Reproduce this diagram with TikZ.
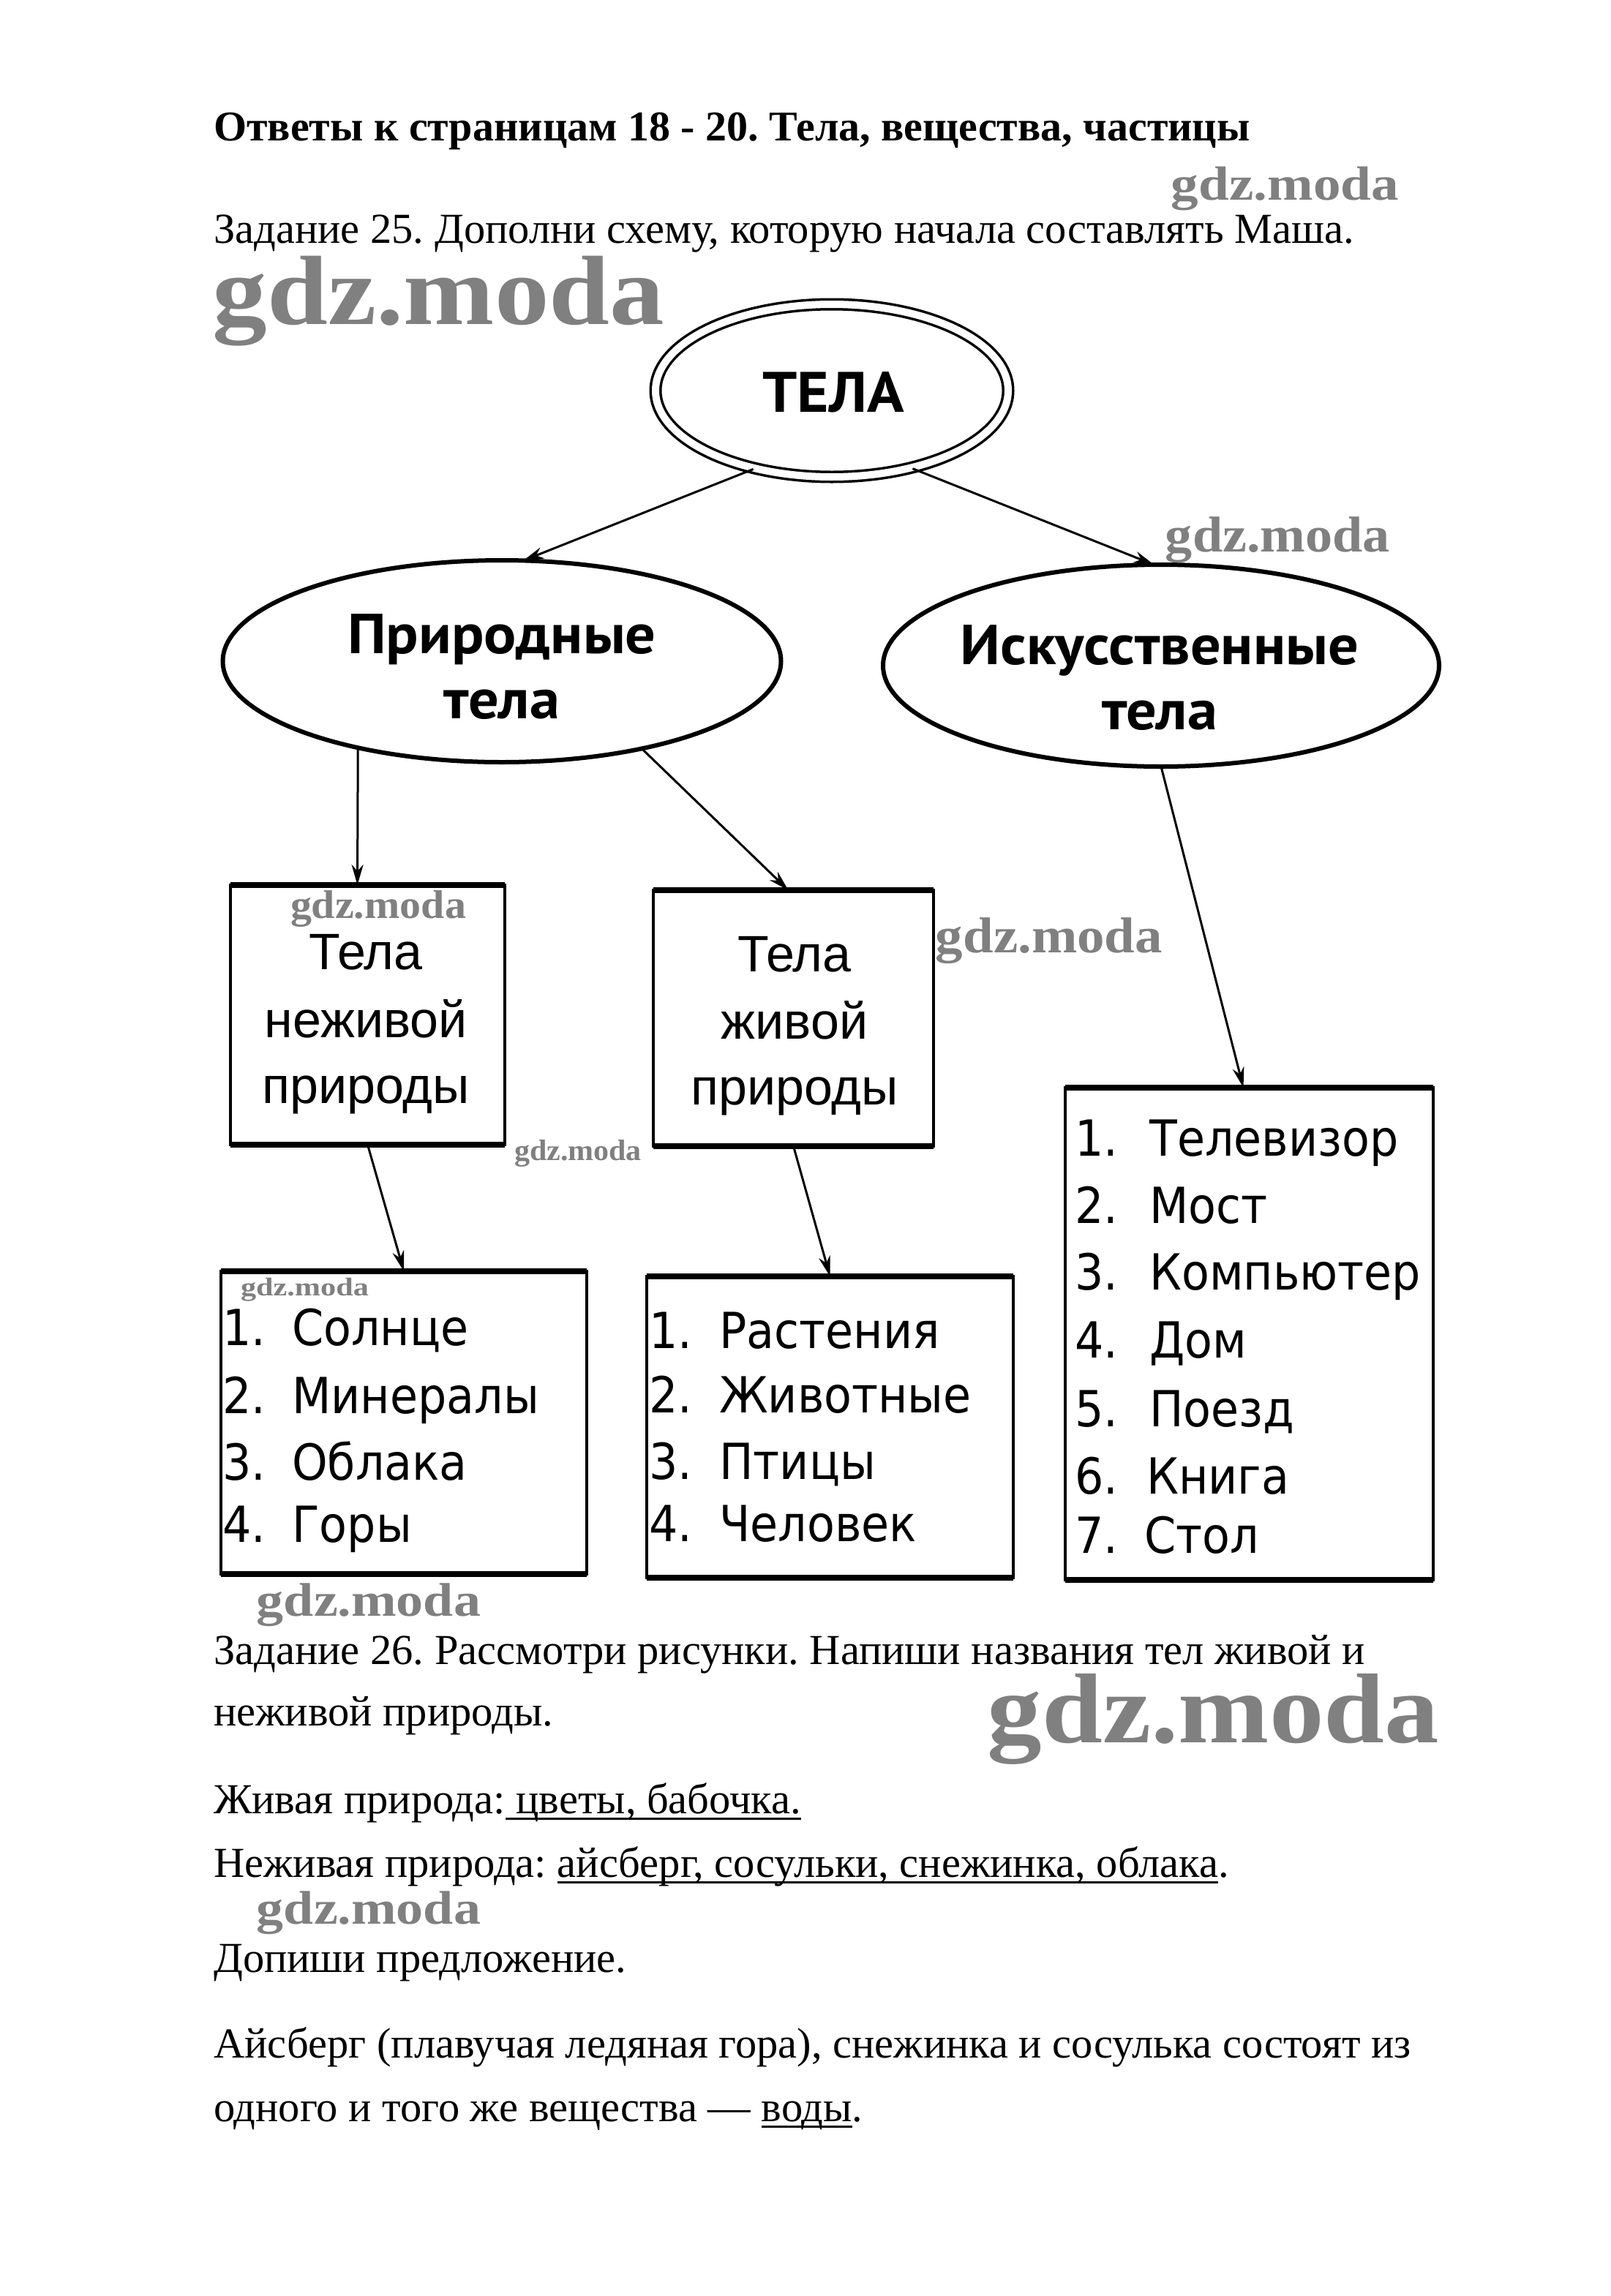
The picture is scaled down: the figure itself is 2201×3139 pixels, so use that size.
\documentclass[tikz,border=0pt]{standalone}
\usepackage{fontspec}
\usepackage{graphicx}
\setmainfont{Liberation Serif}
\newfontfamily\boxfont{Liberation Sans}
\newfontfamily\listfont[FakeStretch=0.91]{DejaVu Sans}
\newfontfamily\ellfont[FakeStretch=1.07]{PT Sans}
\newfontfamily\wmfont{Liberation Serif}
\usetikzlibrary{shapes.geometric,arrows.meta}
\frenchspacing
\newsavebox\myulbox
\newcommand\myul[1]{\sbox\myulbox{#1}\rlap{\rule[-9pt]{\wd\myulbox}{3pt}}\usebox\myulbox}
\newcommand\wmark[2]{\resizebox*{#1}{#2}{\wmfont\bfseries gdz.moda}}
\tikzset{
  ell/.style={ellipse, draw, line width=6pt, inner sep=0pt, outer sep=0pt},
  boxn/.style={rectangle, draw, line width=4pt, inner sep=0pt, outer sep=0pt},
  thickedge/.style={line width=8pt},
  arr/.style={-{Stealth[length=28pt,width=16pt]}, line width=3pt},
  body/.style={anchor=base west, inner sep=0pt, font=\fontsize{58.5}{70}\selectfont},
  ettxt/.style={anchor=base, inner sep=0pt, font=\ellfont\bfseries\fontsize{77}{90}\selectfont},
  bt/.style={anchor=base, inner sep=0pt, font=\boxfont\fontsize{70}{84}\selectfont},
  lst/.style={anchor=base west, inner sep=0pt, font=\listfont\fontsize{68}{80}\selectfont},
  wm/.style={inner sep=0pt, text=black!50},
}
\begin{document}
\begin{tikzpicture}[x=1pt,y=-1pt]
\useasboundingbox (0,0) rectangle (2201,3139);
\fill[white] (0,0) rectangle (2201,3139);

% heading texts
\node[body, font=\bfseries\fontsize{58}{70}\selectfont] (title) at (292,193) {Ответы к страницам 18 - 20. Тела, вещества, частицы};
\node[body] (z25) at (292,332) {Задание 25. Дополни схему, которую начала составлять Маша.};

% top ellipse
\node[ellipse, draw, double, double distance=10pt, line width=3.5pt, inner sep=0pt,
      minimum width=482pt, minimum height=236pt] (tela) at (1137,534) {};
\node[ettxt, font=\ellfont\bfseries\fontsize{78}{90}\selectfont] (telat) at (1139,563) {ТЕЛА};

% second level ellipses
\node[ell, minimum width=763pt, minimum height=276pt] (pr) at (686,904) {};
\node[ettxt] (prt1) at (686,893) {Природные};
\node[ettxt] (prt2) at (686,982) {тела};
\node[ell, minimum width=760pt, minimum height=276pt] (isk) at (1587,910) {};
\node[ettxt] (iskt1) at (1585,908) {Искусственные};
\node[ettxt] (iskt2) at (1585,997) {тела};

% boxes
\node[boxn, minimum width=375pt, minimum height=355pt] (b1) at (502.5,1387.5) {};
\node[boxn, minimum width=383pt, minimum height=350pt] (b2) at (1084.5,1392) {};
\node[boxn, minimum width=503pt, minimum height=673pt] (b3) at (1707.5,1823.5) {};
\node[boxn, minimum width=500pt, minimum height=414pt] (b4) at (552,1945) {};
\node[boxn, minimum width=501pt, minimum height=412pt] (b5) at (1134.5,1951) {};
\foreach \b in {b1,b2,b3,b4,b5}{
  \draw[thickedge] (\b.north west) -- (\b.north east);
  \draw[thickedge] (\b.south west) -- (\b.south east);
}

\node[bt] (b1t1) at (500,1325) {Тела};
\node[bt] (b1t2) at (500,1418) {неживой};
\node[bt] (b1t3) at (500,1508) {природы};
\node[bt] (b2t1) at (1086,1328) {Тела};
\node[bt] (b2t2) at (1086,1420) {живой};
\node[bt] (b2t3) at (1086,1510) {природы};

% list: natural non-living
\node[lst] (l41) at (304,1839) {\makebox[95pt][l]{1.}Солнце};
\node[lst] (l42) at (304,1932) {\makebox[95pt][l]{2.}Минералы};
\node[lst] (l43) at (304,2023) {\makebox[95pt][l]{3.}Облака};
\node[lst] (l44) at (304,2108) {\makebox[95pt][l]{4.}Горы};
% list: living
\node[lst] (l51) at (887,1843) {\makebox[96pt][l]{1.}Растения};
\node[lst] (l52) at (887,1931) {\makebox[96pt][l]{2.}Животные};
\node[lst] (l53) at (887,2022) {\makebox[96pt][l]{3.}Птицы};
\node[lst] (l54) at (887,2107) {\makebox[96pt][l]{4.}Человек};
% list: artificial
\node[lst] (l31) at (1469,1580) {\makebox[102pt][l]{1.}Телевизор};
\node[lst] (l32) at (1469,1672) {\makebox[102pt][l]{2.}Мост};
\node[lst] (l33) at (1469,1763) {\makebox[102pt][l]{3.}Компьютер};
\node[lst] (l34) at (1469,1856) {\makebox[102pt][l]{4.}Дом};
\node[lst] (l35) at (1469,1950) {\makebox[102pt][l]{5.}Поезд};
\node[lst] (l36) at (1469,2042) {\makebox[98pt][l]{6.}Книга};
\node[lst] (l37) at (1469,2123) {\makebox[95pt][l]{7.}Стол};

% arrows
\draw[arr] (tela.225) -- (pr.78);
\draw[arr] (tela.316) -- (isk.94);
\draw[arr] (pr.211) -- ([xshift=-14pt]b1.north);
\draw[arr] (pr.328) -- ([xshift=-7pt]b2.north);
\draw[arr] (isk.south) -- ([xshift=-8pt]b3.north);
\draw[arr] (b1.south) -- (b4.north);
\draw[arr] (b2.south) -- (b5.north);

% lower texts
\node[body] (z26a) at (292,2275) {Задание 26. Рассмотри рисунки. Напиши названия тел живой и};
\node[body] (z26b) at (292,2359) {неживой природы.};
\node[body] (liv) at (292,2479) {Живая природа:\myul{ цветы, бабочка.}};
\node[body] (nliv) at (292,2566) {Неживая природа: \myul{айсберг, сосульки, снежинка, облака}.};
\node[body] (dop) at (292,2696) {Допиши предложение.};
\node[body] (ais1) at (292,2813) {Айсберг (плавучая ледяная гора), снежинка и сосулька состоят из};
\node[body] (ais2) at (292,2900) {одного и того же вещества — \myul{воды}.};

% watermarks
\node[wm] (wm1) at (1756.5,258) {\wmark{311pt}{60pt}};
\node[wm] (wm2) at (599.5,411.5) {\wmark{617pt}{123pt}};
\node[wm] (wm3) at (1746.5,738.5) {\wmark{307pt}{63pt}};
\node[wm] (wm4) at (517,1243) {\wmark{240pt}{50pt}};
\node[wm] (wm5) at (1434,1286.5) {\wmark{310pt}{63pt}};
\node[wm] (wm6) at (790,1576.5) {\wmark{174pt}{37pt}};
\node[wm] (wm7) at (416.5,1763) {\wmark{175pt}{32pt}};
\node[wm] (wm8) at (504,2194.5) {\wmark{306pt}{59pt}};
\node[wm] (wm9) at (1658.5,2350) {\wmark{617pt}{124pt}};
\node[wm] (wm10) at (504,2615.5) {\wmark{306pt}{59pt}};
\end{tikzpicture}
\end{document}
